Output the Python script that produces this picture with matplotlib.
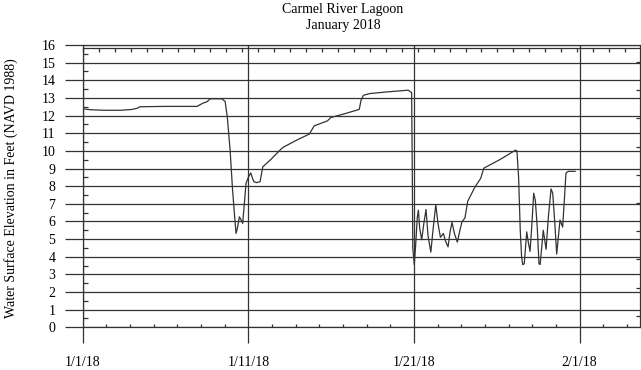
import numpy as np
import matplotlib
matplotlib.use("Agg")
import matplotlib.pyplot as plt
from matplotlib.ticker import MultipleLocator, FixedLocator, NullFormatter

plt.rcParams['font.family'] = ['Liberation Serif', 'DejaVu Serif']
plt.rcParams['font.size'] = 10

# days since 1/1/18 (axis units) and water surface elevation (ft NAVD88)
days = [0, 0.5, 1.3, 2.3, 3.0, 3.3, 3.45, 5.0, 6.9, 7.25, 7.5, 7.7, 8.4, 8.6,
        8.73, 8.9, 9.05, 9.18, 9.26, 9.36, 9.46, 9.56, 9.66, 9.76, 9.86, 10.0,
        10.15, 10.25, 10.34, 10.5, 10.71, 10.87, 11.4, 11.91, 12.1, 12.9, 13.68,
        13.98, 14.5, 14.78, 14.98, 15.8, 16.7, 16.8, 16.95, 17.35, 18.36, 19.66,
        19.86, 19.9, 19.93, 20.02, 20.1, 20.2, 20.27, 20.35, 20.47, 20.6, 20.73,
        20.85, 21.02, 21.15, 21.32, 21.45, 21.6, 21.78, 21.9, 22.06, 22.18, 22.3,
        22.45, 22.62, 22.78, 22.9, 23.08, 23.25, 23.69, 24.03, 24.22, 25.2, 26.13,
        26.22, 26.32, 26.42, 26.5, 26.57, 26.66, 26.81, 26.91, 27.01, 27.12, 27.23,
        27.33, 27.45, 27.55, 27.62, 27.81, 27.98, 28.12, 28.28, 28.38, 28.5, 28.62,
        28.82, 28.98, 29.1, 29.18, 29.32, 29.73]
elev = [12.38, 12.33, 12.3, 12.3, 12.35, 12.42, 12.5, 12.52, 12.52, 12.7, 12.78,
        12.95, 12.95, 12.8, 11.93, 10.04, 7.77, 6.2, 5.32, 5.7, 6.26, 6.1, 5.89,
        7.0, 8.15, 8.5, 8.75, 8.45, 8.25, 8.2, 8.25, 9.09, 9.55, 10.04, 10.2, 10.6,
        10.95, 11.42, 11.6, 11.7, 11.89, 12.1, 12.35, 12.85, 13.15, 13.25, 13.34,
        13.44, 13.3, 9.0, 4.5, 3.55, 4.6, 6.2, 6.64, 5.6, 4.96, 5.9, 6.68, 5.2,
        4.26, 5.5, 6.96, 5.9, 5.1, 5.32, 4.9, 4.56, 5.4, 5.95, 5.3, 4.83, 5.51,
        5.98, 6.2, 7.15, 7.96, 8.44, 9.02, 9.51, 10.04, 10.0, 8.5, 5.5, 4.0, 3.55,
        3.6, 5.41, 4.8, 4.3, 5.8, 7.6, 7.2, 5.6, 3.6, 3.56, 5.5, 4.42, 6.3, 7.84,
        7.6, 6.0, 4.15, 6.08, 5.68, 7.5, 8.74, 8.84, 8.84]

date_ticks = [0, 10, 20, 30]
date_labels = ['1/1/18', '1/11/18', '1/21/18', '2/1/18']
right_ticks = [0.657 + 1.597 * k for k in range(10)]

line_c = '#333333'
fig = plt.figure(figsize=(6.41, 3.70), dpi=100)
ax = fig.add_axes([82.7 / 641, 1 - 327.3 / 370, (640 - 82.7) / 641, (327.3 - 45) / 370])

ax.plot(days, elev, color=line_c, lw=0.9, zorder=5)

ax.set_xlim(0, 33.65)
ax.set_ylim(0, 16)

ax.yaxis.set_major_locator(MultipleLocator(1))
ax.yaxis.set_minor_locator(MultipleLocator(0.5))
ax.xaxis.set_major_locator(FixedLocator(date_ticks))
ax.set_xticklabels(date_labels)
ax.xaxis.set_minor_locator(MultipleLocator(10 / 7))

ax.grid(True, which='major', color=line_c, lw=0.9)
ax.tick_params(axis='y', which='major', direction='out', length=12.7, width=0.9,
               color=line_c, pad=7, labelsize=10)
ax.tick_params(axis='y', which='minor', direction='in', length=3.4, width=0.9, color=line_c)
ax.tick_params(axis='x', which='major', direction='out', length=11.5, width=0.9,
               color=line_c, pad=9.5, labelsize=10)
ax.tick_params(axis='x', which='minor', direction='in', length=2.4, width=0.9, color=line_c)
ax.spines['right'].set_visible(False)
for s in ['left', 'top', 'bottom']:
    ax.spines[s].set_color(line_c)
    ax.spines[s].set_linewidth(0.9)

# right-hand ticks (secondary scale, no labels)
axr = ax.twinx()
axr.set_ylim(0, 16)
axr.yaxis.set_major_locator(FixedLocator(right_ticks))
axr.yaxis.set_major_formatter(NullFormatter())
axr.tick_params(axis='y', direction='in', length=3, width=0.9, color=line_c)
for s in ['left', 'top', 'bottom']:
    axr.spines[s].set_visible(False)
axr.spines['right'].set_color(line_c)
axr.spines['right'].set_linewidth(0.9)

# top tick row just below the 16 ft line
axt = ax.twiny()
axt.set_xlim(0, 34.94)
axt.xaxis.set_major_locator(MultipleLocator(1))
axt.xaxis.set_major_formatter(NullFormatter())
axt.tick_params(axis='x', direction='in', length=3, width=0.9, color=line_c)
for s in ['left', 'right', 'bottom']:
    axt.spines[s].set_visible(False)
axt.spines['top'].set_position(('axes', 0.991))
axt.spines['top'].set_color(line_c)
axt.spines['top'].set_linewidth(0.9)

fig.text(343 / 641, 1 - 10 / 370, 'Carmel River Lagoon', ha='center', va='center', fontsize=10)
fig.text(343 / 641, 1 - 26 / 370, 'January 2018', ha='center', va='center', fontsize=10)
fig.text(11 / 641, 1 - 188 / 370, 'Water Surface Elevation in Feet (NAVD 1988)',
         rotation=90, ha='center', va='center', fontsize=10)

fig.savefig('out.png', dpi=100)
